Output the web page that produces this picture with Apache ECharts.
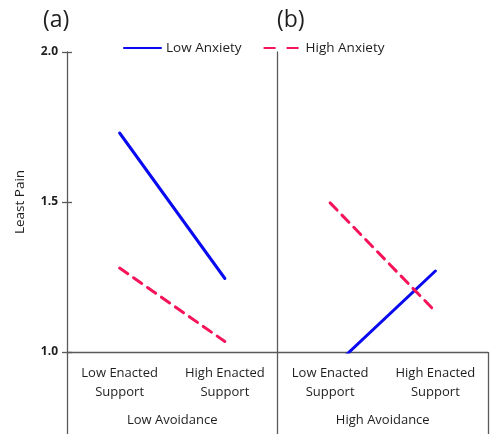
<!DOCTYPE html>
<html>
<head>
<meta charset="utf-8">
<script src="https://cdn.jsdelivr.net/npm/echarts@6/dist/echarts.min.js"></script>
<style>html,body{margin:0;padding:0;background:#fff}#c{width:492px;height:434px}</style>
</head>
<body>
<div id="c"></div>
<script>
var categories = ['Low Enacted\nSupport', 'High Enacted\nSupport', 'Low Enacted\nSupport', 'High Enacted\nSupport'];
var groups = ['Low Avoidance', 'High Avoidance'];
var panelLabels = ['(a)', '(b)'];
var lowAnxietyA = [1.73, 1.245, null, null];
var highAnxietyA = [1.28, 1.035, null, null];
var lowAnxietyB = [null, null, 0.94, 1.27];
var highAnxietyB = [null, null, 1.497, 1.135];

var FONT = '"Open Sans", sans-serif';
var TXT = '#1e1e1e';
var AX = '#5a5a5a';
var BLUE = '#0a0af0';
var RED = '#f5145a';

var chart = echarts.init(document.getElementById('c'));
function lineSeries(name, data, color, dashed) {
  return {
    name: name, type: 'line', data: data, symbol: 'none', connectNulls: false,
    xAxisIndex: 0, yAxisIndex: 0, clip: true,
    lineStyle: { color: color, width: 3, type: dashed ? [10, 7] : 'solid', cap: 'round' },
    itemStyle: { color: color },
    emphasis: { disabled: true }
  };
}
chart.setOption({
  animation: false,
  title: [
    { text: panelLabels[0], left: 38, top: 4, textStyle: { fontFamily: FONT, fontSize: 23, fontWeight: 'normal', color: TXT } },
    { text: panelLabels[1], left: 272, top: 4, textStyle: { fontFamily: FONT, fontSize: 23, fontWeight: 'normal', color: TXT } }
  ],
  legend: {
    left: 118, top: 36, itemWidth: 37, itemHeight: 14, itemGap: 21,
    itemStyle: { opacity: 0, borderWidth: 0 },
    data: [
      { name: 'Low Anxiety' },
      { name: 'High Anxiety', lineStyle: { type: [12, 11], cap: 'butt' } }
    ],
    textStyle: { fontFamily: FONT, fontSize: 13.5, color: TXT }
  },
  grid: { left: 67, right: 4, top: 52, bottom: 82 },
  xAxis: [
    {
      type: 'category', data: categories, boundaryGap: true,
      axisLine: { show: true, lineStyle: { color: AX, width: 1.3 } },
      axisTick: { show: false },
      axisLabel: { interval: 0, margin: 12, fontFamily: FONT, fontSize: 13, lineHeight: 19, color: TXT }
    },
    {
      type: 'category', data: groups, boundaryGap: true, position: 'bottom', offset: 0,
      axisLine: { show: false },
      axisTick: { show: true, interval: 0, length: 82, lineStyle: { color: AX, width: 1.3 } },
      axisLabel: { interval: 0, margin: 62, fontFamily: FONT, fontSize: 13, color: TXT }
    }
  ],
  yAxis: [
    {
      type: 'value', min: 1, max: 2, interval: 0.5,
      name: 'Least Pain', nameLocation: 'middle', nameRotate: 90, nameGap: 40,
      nameTextStyle: { fontFamily: FONT, fontSize: 13.5, color: TXT },
      axisLine: { show: true, lineStyle: { color: AX, width: 1.3 } },
      axisTick: { show: true, length: 5, lineStyle: { color: AX, width: 1.3 } },
      axisLabel: { margin: 9, fontFamily: FONT, fontSize: 12, fontWeight: 'bold', color: TXT,
        formatter: function (v) { return v.toFixed(1); } },
      splitLine: { show: false }
    },
    {
      type: 'value', min: 1, max: 2, interval: 0.5, position: 'left',
      axisLine: { show: false },
      axisTick: { show: true, inside: true, length: 5, lineStyle: { color: AX, width: 1.3 } },
      axisLabel: { show: false }, splitLine: { show: false }
    },
    {
      type: 'value', min: 1, max: 2, position: 'left', offset: -210.5,
      axisLine: { show: true, lineStyle: { color: AX, width: 1.3 } },
      axisTick: { show: false }, axisLabel: { show: false }, splitLine: { show: false }
    }
  ],
  series: [
    lineSeries('Low Anxiety', lowAnxietyA, BLUE, false),
    lineSeries('High Anxiety', highAnxietyA, RED, true),
    lineSeries('Low Anxiety', lowAnxietyB, BLUE, false),
    lineSeries('High Anxiety', highAnxietyB, RED, true)
  ]
});
</script>
</body>
</html>
